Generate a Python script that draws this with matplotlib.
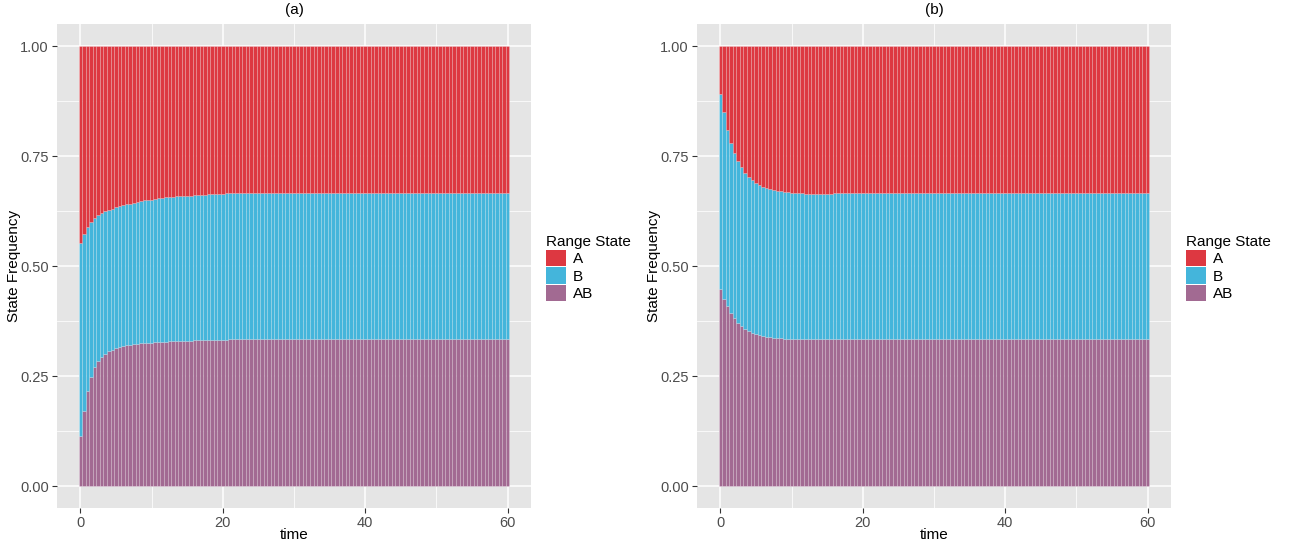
import numpy as np
import matplotlib
matplotlib.use("Agg")
import matplotlib.pyplot as plt
from matplotlib.patches import Patch

# ---- data (time steps of 0.5 from 0 to 60) ----
time = [i * 0.5 for i in range(121)]
states = ["A", "B", "AB"]
colors = {"A": "#DD3841", "B": "#44B5DB", "AB": "#A26A92"}
x_ticks = [0, 20, 40, 60]
y_ticks = [0.0, 0.25, 0.5, 0.75, 1.0]
y_tick_labels = ["0.00", "0.25", "0.50", "0.75", "1.00"]
panel_titles = ["(a)", "(b)"]

ab_a = [0.113, 0.170, 0.215, 0.248, 0.270, 0.284, 0.294, 0.301, 0.306, 0.310,
        0.313, 0.316, 0.318, 0.320, 0.321, 0.322, 0.323, 0.324, 0.325, 0.326,
        0.326, 0.327, 0.327, 0.328, 0.328, 0.329, 0.329, 0.329, 0.330, 0.330,
        0.330, 0.330, 0.331, 0.331, 0.331, 0.331, 0.332, 0.332, 0.332, 0.332,
        0.332, 0.332, 0.333, 0.333] + [0.333] * 77
b_a = [0.440, 0.402, 0.373, 0.352, 0.338, 0.331, 0.326, 0.323, 0.321, 0.320,
       0.320, 0.320, 0.320, 0.320, 0.321, 0.322, 0.323, 0.323, 0.324, 0.324,
       0.325, 0.325, 0.327, 0.327, 0.328, 0.328, 0.328, 0.329, 0.329, 0.329,
       0.330, 0.330, 0.330, 0.330, 0.331, 0.331, 0.331, 0.331, 0.332, 0.332,
       0.332, 0.333, 0.332, 0.332, 0.332, 0.333, 0.333, 0.333, 0.333, 0.334] + [0.334] * 71
a_a = [0.447, 0.428, 0.412, 0.400, 0.392, 0.385, 0.380, 0.376, 0.373, 0.370,
       0.367, 0.364, 0.362, 0.360, 0.358, 0.356, 0.354, 0.353, 0.351, 0.350,
       0.349, 0.348, 0.346, 0.345, 0.344, 0.343, 0.343, 0.342, 0.341, 0.341,
       0.340, 0.340, 0.339, 0.339, 0.338, 0.338, 0.337, 0.337, 0.336, 0.336,
       0.336, 0.335, 0.335, 0.335, 0.335, 0.334, 0.334, 0.334, 0.334, 0.333] + [0.333] * 71

ab_b = [0.447, 0.425, 0.408, 0.394, 0.382, 0.371, 0.363, 0.357, 0.352, 0.348,
        0.345, 0.343, 0.341, 0.339, 0.338, 0.337, 0.336, 0.336, 0.335, 0.335,
        0.334, 0.334, 0.334] + [0.333] * 98
b_b = [0.443, 0.425, 0.402, 0.386, 0.375, 0.368, 0.361, 0.355, 0.350, 0.347,
       0.344, 0.341, 0.339, 0.338, 0.337, 0.336, 0.335, 0.334, 0.334, 0.333,
       0.333, 0.332, 0.331, 0.332, 0.331, 0.331, 0.331, 0.331, 0.331, 0.331,
       0.331, 0.331, 0.332, 0.332, 0.332, 0.332, 0.332, 0.332] + [0.333] * 12 + [0.334] * 71
a_b = [0.110, 0.150, 0.190, 0.220, 0.243, 0.261, 0.276, 0.288, 0.298, 0.305,
       0.311, 0.316, 0.320, 0.323, 0.325, 0.327, 0.329, 0.330, 0.331, 0.332,
       0.333, 0.334, 0.335, 0.335, 0.336, 0.336, 0.336, 0.336, 0.336, 0.336,
       0.336, 0.336, 0.335, 0.335, 0.335, 0.335, 0.335, 0.335] + [0.334] * 12 + [0.333] * 71

panels = [{"A": a_a, "B": b_a, "AB": ab_a}, {"A": a_b, "B": b_b, "AB": ab_b}]

# ---- drawing ----
plt.rcParams["font.family"] = ["Liberation Sans", "DejaVu Sans"]
fig = plt.figure(figsize=(12.93, 5.48), dpi=100)
W, H = 1293, 548
axes_px = [(57, 24, 531, 508), (697, 24, 1171, 508)]
legend_x = [546, 1186]

edge = (1, 1, 1, 0.28)
for k, (data, (l, t, r, b)) in enumerate(zip(panels, axes_px)):
    ax = fig.add_axes([l / W, 1 - b / H, (r - l) / W, (b - t) / H])
    ax.set_facecolor("#E5E5E5")
    ab = np.array(data["AB"]); bb = np.array(data["B"]); aa = np.array(data["A"])
    tot = ab + bb + aa
    ab, bb, aa = ab / tot, bb / tot, aa / tot
    tarr = np.array(time)
    width = 0.5
    kw = dict(width=width, edgecolor=edge, linewidth=0.45, zorder=3)
    ax.bar(tarr, ab, color=colors["AB"], **kw)
    ax.bar(tarr, bb, bottom=ab, color=colors["B"], **kw)
    ax.bar(tarr, aa, bottom=ab + bb, color=colors["A"], **kw)
    ax.set_xlim(-3.275, 63.275)
    ax.set_ylim(-0.05, 1.05)
    ax.set_xticks(x_ticks)
    ax.set_xticks([10, 30, 50], minor=True)
    ax.set_yticks(y_ticks)
    ax.set_yticklabels(y_tick_labels)
    ax.set_yticks([0.125, 0.375, 0.625, 0.875], minor=True)
    ax.grid(which="major", color="white", linewidth=1.1, zorder=0)
    ax.grid(which="minor", color="white", linewidth=0.55, zorder=0)
    ax.set_axisbelow(True)
    for s in ax.spines.values():
        s.set_visible(False)
    ax.tick_params(which="major", length=3.5, width=0.8, color="#333333",
                   labelcolor="#4D4D4D", labelsize=10.5, pad=2.5)
    ax.tick_params(which="minor", length=0)
    ax.set_xlabel("time", fontsize=11, color="black")
    ax.set_ylabel("State Frequency", fontsize=11, color="black")
    ax.xaxis.set_label_coords(0.5, (508 - 528) / 484)
    ax.yaxis.set_label_coords((21 - 57) / 474, 0.5)
    ax.set_title(panel_titles[k], fontsize=11, color="black", pad=7)

    handles = [Patch(facecolor=colors[s], edgecolor="none") for s in states]
    lx = legend_x[k]
    leg = fig.legend(handles, states, title="Range State",
                     loc="upper left",
                     bbox_to_anchor=(lx / W, 1 - 235 / H),
                     frameon=False, fontsize=11, title_fontsize=11,
                     handlelength=1.3, handleheight=1.3, handletextpad=0.45,
                     labelspacing=0.05, borderpad=0, borderaxespad=0)
    leg._legend_box.align = "left"

fig.savefig("out.png", dpi=100)
